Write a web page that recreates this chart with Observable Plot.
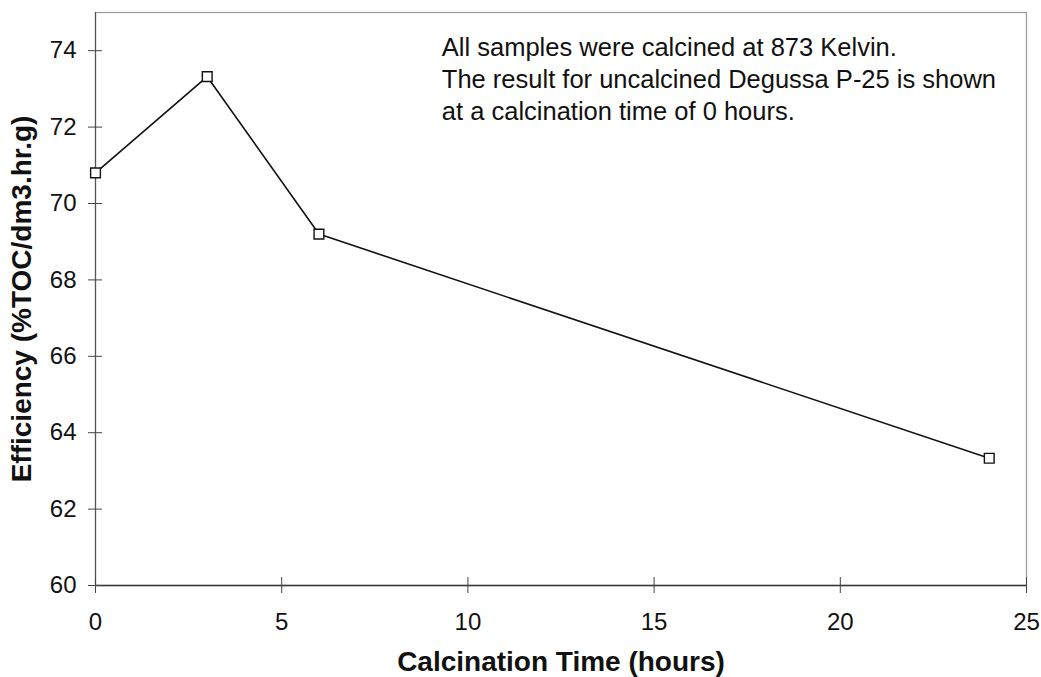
<!DOCTYPE html>
<html><head><meta charset="utf-8">
<script src="https://cdn.jsdelivr.net/npm/d3@7"></script>
<script src="https://cdn.jsdelivr.net/npm/@observablehq/plot@0.6"></script>
<style>
html,body{margin:0;padding:0;background:#fff;}
svg{font-family:"Liberation Sans",Arial,Helvetica,sans-serif;}
</style></head>
<body><div id="chart"></div>
<script>
const calcTime = [0, 3, 6, 24];
const efficiency = [70.8, 73.32, 69.2, 63.33];
const xTicks = [0, 5, 10, 15, 20, 25];
const yTicks = [60, 62, 64, 66, 68, 70, 72, 74];
const noteLines = ["All samples were calcined at 873 Kelvin.", "The result for uncalcined Degussa P-25 is shown", "at a calcination time of 0 hours."];
const noteAt = {x: 9.3, y: 74.47};

const data = calcTime.map((t, i) => ({t, e: efficiency[i]}));

const chart = Plot.plot({
  width: 1041, height: 677,
  marginLeft: 95, marginRight: 15, marginTop: 12, marginBottom: 92,
  style: {fontSize: "24px", fontFamily: "'Liberation Sans', Arial, Helvetica, sans-serif", color: "#111", background: "#fff"},
  x: {domain: [0, 25]},
  y: {domain: [60, 75]},
  marks: [
    Plot.frame({stroke: "#999", strokeWidth: 1.2}),
    Plot.ruleX([0], {stroke: "#555", strokeWidth: 1.2}),
    Plot.ruleY([60], {stroke: "#333", strokeWidth: 1.4}),
    Plot.axisY({ticks: yTicks, tickSize: 7, tickPadding: 12, tickFormat: d => String(d), fontSize: 24, stroke: "#444",
      label: "Efficiency (%TOC/dm3.hr.g)", labelAnchor: "center", labelArrow: "none", labelOffset: 84}),
    Plot.axisY({ticks: yTicks, tickSize: 7, dx: 7, text: null, label: null, stroke: "#444"}),
    Plot.axisX({ticks: xTicks, tickSize: 8, tickPadding: 19, tickFormat: d => String(d), fontSize: 24, stroke: "#444",
      label: "Calcination Time (hours)", labelAnchor: "center", labelArrow: "none", labelOffset: 85}),
    Plot.axisX({ticks: xTicks, tickSize: 8, dy: -8, text: null, label: null, stroke: "#444"}),
    Plot.line(data, {x: "t", y: "e", stroke: "#111", strokeWidth: 1.6}),
    Plot.dot(data, {x: "t", y: "e", symbol: "square", r: 5.5, stroke: "#111", fill: "#fff", strokeWidth: 1.4}),
    Plot.text([noteLines.join("\n")], {x: noteAt.x, y: noteAt.y, textAnchor: "start", lineAnchor: "top", lineHeight: 1.27, fontSize: 25.5, fill: "#111"})
  ]
});
document.getElementById("chart").appendChild(chart);
d3.select(chart).selectAll("[aria-label='y-axis label'] text, [aria-label='x-axis label'] text").style("font-weight", "bold").style("font-size", "28px");
</script>
</body></html>
